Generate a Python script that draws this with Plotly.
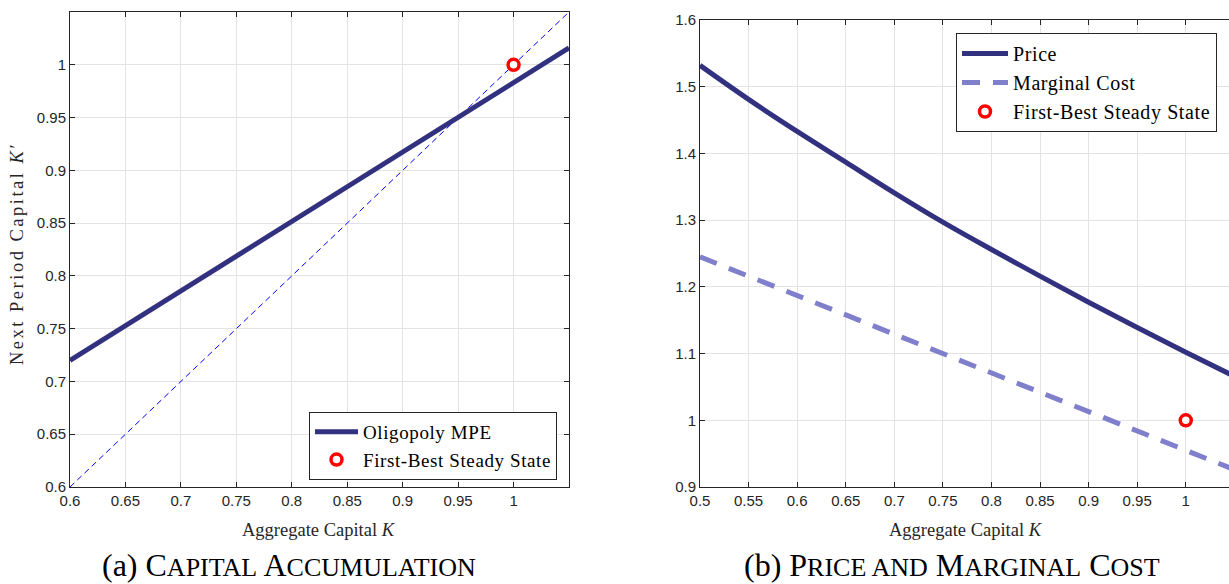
import plotly.graph_objects as go

# Panel (a): capital accumulation
k_grid = [0.60, 0.65, 0.70, 0.75, 0.80, 0.85, 0.90, 0.95, 1.00, 1.05]
k_next_mpe = [0.720, 0.753, 0.786, 0.819, 0.852, 0.885, 0.917, 0.950, 0.983, 1.016]
diag_k = [0.60, 1.05]
diag_k_next = [0.60, 1.05]

# Panel (b): price and marginal cost
k_grid_b = [0.50, 0.55, 0.60, 0.65, 0.70, 0.75, 0.80, 0.85, 0.90, 0.95, 1.00, 1.05]
price = [1.532, 1.481, 1.433, 1.387, 1.341, 1.297, 1.256, 1.216, 1.177, 1.139, 1.102, 1.066]
marginal_cost = [1.245, 1.216, 1.187, 1.158, 1.129, 1.100, 1.071, 1.042, 1.013, 0.984, 0.955, 0.926]

# First-best steady state
fb_k = [1.0]
fb_value = [1.0]

# Tick labels
xticks_a = [0.6, 0.65, 0.7, 0.75, 0.8, 0.85, 0.9, 0.95, 1.0]
yticks_a = [0.6, 0.65, 0.7, 0.75, 0.8, 0.85, 0.9, 0.95, 1.0]
xticks_b = [0.5, 0.55, 0.6, 0.65, 0.7, 0.75, 0.8, 0.85, 0.9, 0.95, 1.0]
yticks_b = [0.9, 1.0, 1.1, 1.2, 1.3, 1.4, 1.5, 1.6]

W, H = 1229, 584
NAVY = "#31317f"
LAVENDER = "#7f7fcc"
SERIF = "Liberation Serif"
SANS = "Liberation Sans"


def spaced(label):
    return f'<span style="letter-spacing:0.6px">{label}</span>'


fig = go.Figure()

fig.add_trace(go.Scatter(
    x=diag_k, y=diag_k_next, mode="lines", showlegend=False,
    line=dict(color="#0000ff", width=1, dash="6px,4px"),
    xaxis="x", yaxis="y"))
fig.add_trace(go.Scatter(
    x=k_grid, y=k_next_mpe, mode="lines", name=spaced("Oligopoly MPE"),
    line=dict(color=NAVY, width=5), xaxis="x", yaxis="y", legend="legend"))
fig.add_trace(go.Scatter(
    x=fb_k, y=fb_value, mode="markers", name=spaced("First-Best Steady State"),
    marker=dict(symbol="circle", size=11, color="white",
                line=dict(color="#ff0000", width=3.5)),
    xaxis="x", yaxis="y", legend="legend"))

fig.add_trace(go.Scatter(
    x=k_grid_b, y=price, mode="lines", name=spaced("Price"),
    line=dict(color=NAVY, width=5, shape="spline"),
    xaxis="x2", yaxis="y2", legend="legend2"))
fig.add_trace(go.Scatter(
    x=k_grid_b, y=marginal_cost, mode="lines", name=spaced("Marginal Cost"),
    line=dict(color=LAVENDER, width=5, dash="18px,13px"),
    xaxis="x2", yaxis="y2", legend="legend2"))
fig.add_trace(go.Scatter(
    x=fb_k, y=fb_value, mode="markers", name=spaced("First-Best Steady State"),
    marker=dict(symbol="circle", size=11, color="white",
                line=dict(color="#ff0000", width=3.5)),
    xaxis="x2", yaxis="y2", legend="legend2"))

axis_common = dict(
    showgrid=True, gridcolor="#e3e3e3", gridwidth=1,
    showline=True, linecolor="#262626", linewidth=1,
    ticks="inside", ticklen=5, tickcolor="#262626",
    tickfont=dict(family=SANS, size=15, color="#262626"),
    zeroline=False, automargin=False,
)


def px_x(p):
    return p / W


def px_y(p):
    return 1 - p / H


legend_style = dict(
    xanchor="left", yanchor="top",
    bgcolor="white", bordercolor="#262626", borderwidth=1,
    tracegroupgap=0,
)

fig.update_layout(
    width=W, height=H,
    margin=dict(l=0, r=0, t=0, b=0, autoexpand=False),
    paper_bgcolor="white", plot_bgcolor="white",
    xaxis=dict(axis_common, domain=[px_x(70), px_x(569)], range=[0.6, 1.05],
               tickvals=xticks_a, mirror="ticks", anchor="y"),
    yaxis=dict(axis_common, domain=[px_y(487), px_y(12)], range=[0.6, 1.05],
               tickvals=yticks_a, mirror="ticks", anchor="x"),
    xaxis2=dict(axis_common, domain=[px_x(700), 1.0], range=[0.5, 1.0445],
                tickvals=xticks_b, mirror="ticks", anchor="y2"),
    yaxis2=dict(axis_common, domain=[px_y(487), px_y(20)], range=[0.9, 1.6],
                tickvals=yticks_b, mirror=False, anchor="x2"),
    legend=dict(legend_style, x=px_x(309), y=px_y(412), itemwidth=43,
                font=dict(family=SERIF, size=19, color="black")),
    legend2=dict(legend_style, x=px_x(956), y=px_y(33), itemwidth=46,
                 font=dict(family=SERIF, size=20, color="black")),
)

title_font = dict(family=SERIF, size=18.5, color="#262626")
annotations = [
    dict(text="Aggregate Capital <i>K</i>", x=px_x(319), y=px_y(530),
         xref="paper", yref="paper", showarrow=False, font=title_font,
         xanchor="center", yanchor="middle"),
    dict(text="Aggregate Capital <i>K</i>", x=px_x(966), y=px_y(530),
         xref="paper", yref="paper", showarrow=False, font=title_font,
         xanchor="center", yanchor="middle"),
    dict(text='<span style="letter-spacing:2.5px">Next Period Capital <i>K</i>′</span>',
         x=px_x(17), y=px_y(254),
         xref="paper", yref="paper", showarrow=False, font=title_font,
         textangle=-90, xanchor="center", yanchor="middle"),
]

sc = '<span style="font-size:26px">'
cap_a = f"(a) C{sc}APITAL</span> A{sc}CCUMULATION</span>"
cap_b = f"(b) P{sc}RICE AND</span> M{sc}ARGINAL</span> C{sc}OST</span>"
cap_font = dict(family=SERIF, size=32, color="black")
annotations += [
    dict(text=cap_a, x=px_x(289), y=px_y(565), xref="paper", yref="paper",
         showarrow=False, font=cap_font, xanchor="center", yanchor="middle"),
    dict(text=cap_b, x=px_x(952), y=px_y(565), xref="paper", yref="paper",
         showarrow=False, font=cap_font, xanchor="center", yanchor="middle"),
]
fig.update_layout(annotations=annotations)

fig.write_html("out.html")
